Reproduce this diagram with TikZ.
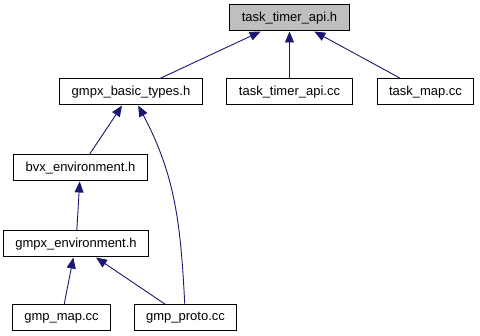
\documentclass[tikz,border=0pt]{standalone}
\usepackage{fontspec}
\setmainfont{Liberation Sans}
\usetikzlibrary{arrows.meta}
\definecolor{edgeblue}{RGB}{25,25,112}
\definecolor{rootgray}{RGB}{191,191,191}

\begin{document}
\begin{tikzpicture}[x=1pt,y=-1pt]
			\tikzstyle{every node}+=[font=\fontsize{13}{15}\selectfont]
			\tikzstyle{file}=[draw=black,line width=1pt,fill=white,inner xsep=12pt,inner ysep=0pt,minimum height=26pt]
			\tikzstyle{dep}=[draw=edgeblue,line width=0.9pt,-{Triangle[length=11pt,width=9pt]}]
			\useasboundingbox (0,0) rectangle (480,336);
			\node [file,fill=rootgray] (api) at (289.5,18) {task\_timer\_api.h};
			\node [file] (basic) at (131,92) {gmpx\_basic\_types.h};
			\node [file] (apicc) at (289.5,92) {task\_timer\_api.cc};
			\node [file] (map) at (425.5,92) {task\_map.cc};
			\node [file] (bvx) at (80.5,168) {bvx\_environment.h};
			\node [file] (env) at (76,244) {gmpx\_environment.h};
			\node [file] (gmap) at (61.5,318) {gmp\_map.cc};
			\node [file] (proto) at (185.5,318) {gmp\_proto.cc};
			\draw [dep] (basic) -- (api);
			\draw [dep] (apicc) -- (api);
			\draw [dep] (map) -- (api);
			\draw [dep] (bvx) -- (basic);
			\draw [dep] (proto) to [out=93,in=-62] (basic);
			\draw [dep] (env) -- (bvx);
			\draw [dep] (gmap) -- (env);
			\draw [dep] (proto) -- (env);
		\end{tikzpicture}
\end{document}
